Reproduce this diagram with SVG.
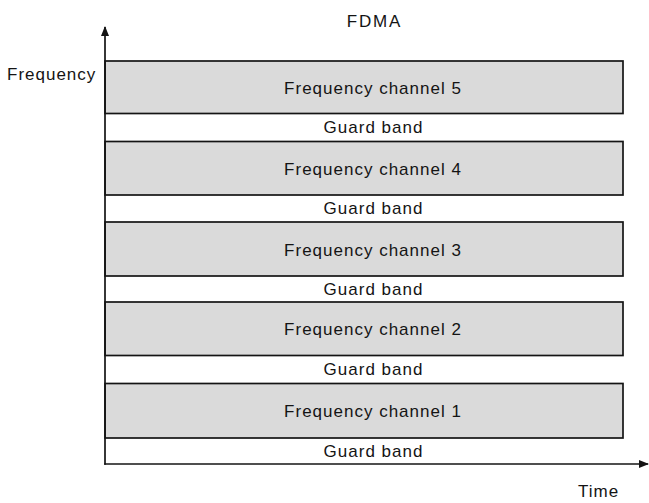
<svg xmlns="http://www.w3.org/2000/svg" width="649" height="503" viewBox="0 0 649 503">
<style>
.t{font-family:"Liberation Sans",Arial,sans-serif;font-size:17px;fill:#141414;letter-spacing:1px}
.c{text-anchor:middle}
.ch{fill:#dadada;stroke:#141414;stroke-width:1.7}
.ax{stroke:#141414;stroke-width:1.7;fill:none}
</style>
<defs>
<marker id="ah" markerWidth="10" markerHeight="8" refX="9" refY="4" orient="auto" markerUnits="userSpaceOnUse">
<path d="M0,0 L10,4 L0,8 Z" fill="#141414"/>
</marker>
</defs>
<rect width="649" height="503" fill="#fff"/>
<text class="t c" x="374.5" y="27" style="letter-spacing:1.8px">FDMA</text>
<text class="t" x="7" y="79.5">Frequency</text>
<text class="t" x="578" y="497">Time</text>
<g id="channel5"><rect class="ch" x="105" y="61" width="518" height="52.5"/><text class="t c" x="373" y="93.5">Frequency channel 5</text></g>
<g id="guard5"><text class="t c" x="373.5" y="133">Guard band</text></g>
<g id="channel4"><rect class="ch" x="105" y="141.5" width="518" height="53.5"/><text class="t c" x="373" y="174.5">Frequency channel 4</text></g>
<g id="guard4"><text class="t c" x="373.5" y="214">Guard band</text></g>
<g id="channel3"><rect class="ch" x="105" y="222" width="518" height="54"/><text class="t c" x="373" y="255.5">Frequency channel 3</text></g>
<g id="guard3"><text class="t c" x="373.5" y="294.5">Guard band</text></g>
<g id="channel2"><rect class="ch" x="105" y="302" width="518" height="53.5"/><text class="t c" x="373" y="335">Frequency channel 2</text></g>
<g id="guard2"><text class="t c" x="373.5" y="375">Guard band</text></g>
<g id="channel1"><rect class="ch" x="105" y="383.5" width="518" height="54.5"/><text class="t c" x="373" y="417">Frequency channel 1</text></g>
<g id="guard1"><text class="t c" x="373.5" y="456.5">Guard band</text></g>
<g id="connectors">
<line class="ax" x1="105" y1="464.8" x2="105" y2="27" marker-end="url(#ah)"/>
<line class="ax" x1="104.2" y1="464" x2="648" y2="464" marker-end="url(#ah)"/>
</g>
</svg>
